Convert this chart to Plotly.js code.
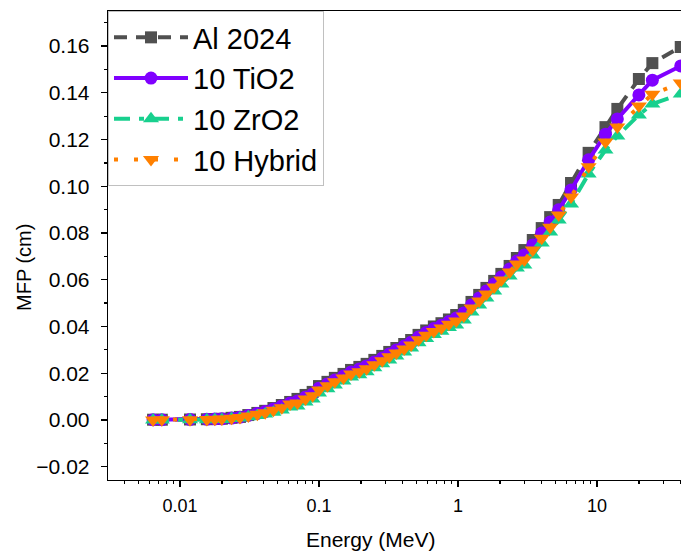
<!DOCTYPE html>
<html>
<head>
<meta charset="utf-8">
<script src="https://cdn.plot.ly/plotly-3.0.1.min.js"></script>
<style>html,body{margin:0;padding:0;background:#fff;}#chart{width:681px;height:555px;}</style>
</head>
<body>
<div id="chart"></div>
<script>
const energy = [0.0064, 0.0074, 0.0118, 0.0156, 0.0178, 0.020, 0.0235, 0.027, 0.031, 0.036, 0.041, 0.047, 0.054, 0.062, 0.070, 0.080, 0.090, 0.100, 0.115, 0.13, 0.15, 0.17, 0.195, 0.22, 0.25, 0.285, 0.32, 0.36, 0.41, 0.46, 0.52, 0.59, 0.67, 0.76, 0.86, 0.97, 1.1, 1.25, 1.42, 1.6, 1.82, 2.05, 2.35, 2.65, 3.0, 3.45, 4.0, 4.6, 5.3, 6.5, 8.7, 11.5, 14, 20, 25, 40];

const al2024 = [0.0001,0.0001,0.0002,0.0003,0.0004,0.0005,0.0009,0.0013,0.0021,0.0030,0.0039,0.0051,0.0064,0.0077,0.0090,0.0107,0.0120,0.0145,0.0163,0.0180,0.0197,0.0214,0.0227,0.0240,0.0257,0.0274,0.0291,0.0308,0.0325,0.0342,0.0364,0.0383,0.0400,0.0414,0.0430,0.0449,0.0471,0.0505,0.0535,0.0565,0.0595,0.0625,0.0659,0.0693,0.0727,0.0770,0.0821,0.0868,0.0920,0.1014,0.1143,0.1253,0.1331,0.1459,0.1527,0.1596];

const tio2 = [0.0001,0.0001,0.0002,0.0003,0.0004,0.0005,0.0008,0.0012,0.0019,0.0028,0.0036,0.0047,0.0060,0.0073,0.0081,0.0098,0.0111,0.0136,0.0154,0.0171,0.0188,0.0205,0.0218,0.0231,0.0248,0.0265,0.0282,0.0299,0.0316,0.0333,0.0355,0.0374,0.0391,0.0405,0.0421,0.0436,0.0458,0.0492,0.0522,0.0552,0.0582,0.0612,0.0646,0.0680,0.0706,0.0749,0.0800,0.0847,0.0899,0.0984,0.1113,0.1223,0.1288,0.1391,0.1454,0.1515];

const zro2 = [0.0000,0.0000,0.0001,0.0001,0.0002,0.0002,0.0006,0.0008,0.0014,0.0019,0.0025,0.0033,0.0043,0.0055,0.0060,0.0077,0.0090,0.0115,0.0133,0.0150,0.0167,0.0184,0.0193,0.0206,0.0223,0.0240,0.0257,0.0274,0.0291,0.0308,0.0330,0.0349,0.0366,0.0380,0.0396,0.0406,0.0428,0.0462,0.0492,0.0522,0.0552,0.0582,0.0616,0.0650,0.0663,0.0706,0.0757,0.0804,0.0856,0.0924,0.1053,0.1155,0.1215,0.1305,0.1352,0.1395];

const hybrid = [0.0000,0.0001,0.0001,0.0002,0.0003,0.0004,0.0007,0.0010,0.0017,0.0024,0.0031,0.0041,0.0052,0.0068,0.0073,0.0090,0.0103,0.0128,0.0146,0.0163,0.0180,0.0197,0.0206,0.0219,0.0236,0.0253,0.0270,0.0287,0.0304,0.0321,0.0343,0.0362,0.0379,0.0393,0.0409,0.0423,0.0445,0.0479,0.0509,0.0539,0.0569,0.0599,0.0633,0.0667,0.0684,0.0727,0.0778,0.0825,0.0877,0.0954,0.1083,0.1189,0.1254,0.1343,0.1394,0.1442];

const seriesNames = ["Al 2024", "10 TiO2", "10 ZrO2", "10 Hybrid"];
const xTickVals = [0.01, 0.1, 1, 10];
const xTickText = ["0.01", "0.1", "1", "10"];
const xMinorVals = [0.004,0.005,0.006,0.007,0.008,0.009,0.02,0.03,0.04,0.05,0.06,0.07,0.08,0.09,0.2,0.3,0.4,0.5,0.6,0.7,0.8,0.9,2,3,4,5,6,7,8,9,20,30,40];

const font = "Liberation Sans, Arial, sans-serif";

const traces = [
  {x: energy, y: al2024, name: seriesNames[0], mode: "lines+markers",
   line: {color: "#505050", width: 4, dash: "13px,9px"},
   marker: {symbol: "square", size: 12, color: "#505050"}},
  {x: energy, y: tio2, name: seriesNames[1], mode: "lines+markers",
   line: {color: "#8000ff", width: 4, dash: "solid"},
   marker: {symbol: "circle", size: 13, color: "#8000ff"}},
  {x: energy, y: zro2, name: seriesNames[2], mode: "lines+markers",
   line: {color: "#18d08e", width: 4, dash: "16px,9px,5px,9px"},
   marker: {symbol: "triangle-up", size: 14, color: "#18d08e"}},
  {x: energy, y: hybrid, name: seriesNames[3], mode: "lines+markers",
   line: {color: "#ff8000", width: 4, dash: "4px,16px"},
   marker: {symbol: "triangle-down", size: 14, color: "#ff8000"}}
];

const layout = {
  width: 681, height: 555,
  margin: {l: 108, r: 0, t: 11, b: 75, pad: 0},
  paper_bgcolor: "#ffffff", plot_bgcolor: "#ffffff",
  font: {family: font, color: "#000"},
  showlegend: true,
  legend: {x: 0, y: 1, xanchor: "left", yanchor: "top",
    bgcolor: "#ffffff", bordercolor: "#c0c0c0", borderwidth: 1,
    font: {family: font, size: 29, color: "#000"}, itemwidth: 74, tracegroupgap: 0},
  xaxis: {type: "log", range: [-2.518, 1.604], showgrid: false, zeroline: false,
    showline: true, linecolor: "#000", linewidth: 1.3, mirror: true,
    ticks: "outside", ticklen: 6, tickwidth: 1.3, tickcolor: "#000",
    tickmode: "array", tickvals: xTickVals, ticktext: xTickText,
    ticklabelstandoff: 3,
    tickfont: {family: font, size: 18, color: "#000"},
    minor: {tickmode: "array", tickvals: xMinorVals, ticks: "outside", ticklen: 3, tickwidth: 1.3, tickcolor: "#000", showgrid: false}},
  yaxis: {range: [-0.0257, 0.175], showgrid: false, zeroline: false,
    showline: true, linecolor: "#000", linewidth: 1.3, mirror: false,
    ticks: "outside", ticklen: 6, tickwidth: 1.3, tickcolor: "#000",
    tick0: 0, dtick: 0.02, tickformat: ".2f",
    ticklabelstandoff: 7,
    tickfont: {family: font, size: 21, color: "#000"},
    minor: {dtick: 0.01, ticks: "outside", ticklen: 3, tickwidth: 1.3, tickcolor: "#000", showgrid: false}},
  annotations: [
    {text: "Energy (MeV)", xref: "paper", yref: "paper", x: (371-108)/573, y: -0.126, xanchor: "center", yanchor: "middle", showarrow: false, font: {family: font, size: 21, color: "#000"}},
    {text: "MFP (cm)", xref: "paper", yref: "paper", x: (24-108)/573, y: (480-268)/469, xanchor: "center", yanchor: "middle", textangle: -90, showarrow: false, font: {family: font, size: 20, color: "#000"}}
  ]
};

Plotly.newPlot("chart", traces, layout, {displayModeBar: false, staticPlot: true});
</script>
</body>
</html>
